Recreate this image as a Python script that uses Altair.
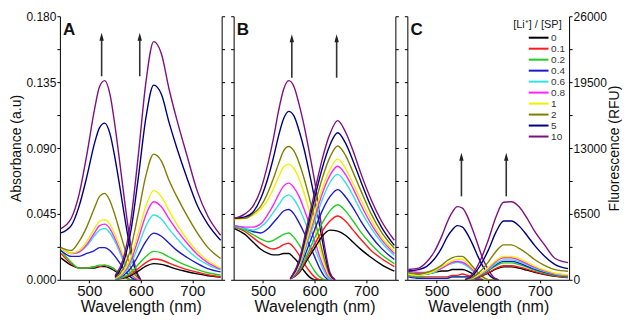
import altair as alt
import pandas as pd

SERIES = ["0", "0.1", "0.2", "0.4", "0.6", "0.8", "1", "2", "5", "10"]
COLORS = ["#000000", "#ff1a1a", "#22cc22", "#1c1cc8", "#33e3e3", "#ff22ff",
          "#f0f000", "#7f7f00", "#00007f", "#7f107f"]

X_DOMAIN = [443, 757]
X_TICKS = [500, 600, 700]
ABS_MAX = 0.18
FL_MAX = 26000

# ---------------- Panel A ----------------
A_ABS_WL = [445, 465, 480, 495, 510, 520, 530, 540, 550, 560, 570, 580, 590, 600]
A_ABS = {
    "0":   [0.015, 0.010, 0.008, 0.008, 0.008, 0.009, 0.009, 0.008, 0.006, 0.004, 0.002, 0.000, 0.000, 0.000],
    "0.1": [0.018, 0.011, 0.008, 0.008, 0.009, 0.009, 0.010, 0.009, 0.007, 0.004, 0.002, 0.000, 0.000, 0.000],
    "0.2": [0.020, 0.012, 0.008, 0.008, 0.009, 0.010, 0.010, 0.009, 0.007, 0.004, 0.002, 0.000, 0.000, 0.000],
    "0.4": [0.020, 0.016, 0.016, 0.018, 0.020, 0.022, 0.022, 0.020, 0.016, 0.011, 0.006, 0.002, 0.000, 0.000],
    "0.6": [0.022, 0.018, 0.019, 0.023, 0.030, 0.034, 0.035, 0.032, 0.026, 0.018, 0.010, 0.004, 0.001, 0.000],
    "0.8": [0.022, 0.018, 0.019, 0.024, 0.032, 0.037, 0.038, 0.035, 0.028, 0.020, 0.012, 0.005, 0.001, 0.000],
    "1":   [0.022, 0.018, 0.020, 0.026, 0.035, 0.040, 0.041, 0.038, 0.031, 0.022, 0.013, 0.006, 0.002, 0.000],
    "2":   [0.022, 0.020, 0.026, 0.036, 0.049, 0.057, 0.059, 0.054, 0.044, 0.032, 0.020, 0.009, 0.003, 0.000],
    "5":   [0.032, 0.037, 0.050, 0.070, 0.093, 0.104, 0.107, 0.100, 0.083, 0.062, 0.040, 0.020, 0.006, 0.000],
    "10":  [0.035, 0.042, 0.058, 0.085, 0.116, 0.132, 0.136, 0.127, 0.105, 0.078, 0.050, 0.025, 0.008, 0.000],
}
A_FL_WL = [550, 565, 580, 595, 610, 625, 640, 655, 670, 690, 710, 730, 755]
A_FL = {
    "0":   [50, 150, 400, 850, 1350, 1600, 1520, 1300, 1050, 800, 580, 400, 280],
    "0.1": [50, 200, 500, 1100, 1700, 2050, 1950, 1650, 1350, 1000, 750, 500, 300],
    "0.2": [50, 250, 700, 1500, 2300, 2800, 2650, 2250, 1850, 1400, 1000, 700, 480],
    "0.4": [100, 400, 1100, 2400, 3800, 4600, 4300, 3600, 2900, 2200, 1600, 1100, 780],
    "0.6": [100, 500, 1500, 3300, 5300, 6400, 6000, 5000, 4100, 3000, 2100, 1500, 980],
    "0.8": [150, 600, 1800, 4000, 6400, 7700, 7200, 6000, 4900, 3600, 2500, 1700, 1080],
    "1":   [150, 700, 2100, 4600, 7300, 8800, 8200, 6800, 5500, 4000, 2800, 1900, 1150],
    "2":   [200, 1000, 3000, 6500, 10300, 12400, 11700, 9800, 8200, 6300, 4600, 3200, 2100],
    "5":   [300, 1500, 4600, 10000, 16000, 19200, 18300, 15500, 13000, 10000, 7300, 5500, 3900],
    "10":  [400, 1900, 5600, 12200, 19500, 23500, 22300, 18800, 15800, 12200, 8700, 6300, 4400],
}

# ---------------- Panel B ----------------
B_ABS_WL = [445, 465, 480, 495, 510, 520, 530, 540, 550, 560, 570, 580, 590, 600, 610, 620, 630, 640]
B_ABS = {
    "0":   [0.035, 0.031, 0.026, 0.021, 0.018, 0.017, 0.017, 0.018, 0.018, 0.015, 0.011, 0.006, 0.002, 0.000, 0.000, 0.000, 0.000, 0.000],
    "0.1": [0.036, 0.033, 0.029, 0.025, 0.022, 0.021, 0.022, 0.024, 0.025, 0.022, 0.017, 0.011, 0.006, 0.002, 0.000, 0.000, 0.000, 0.000],
    "0.2": [0.036, 0.034, 0.031, 0.028, 0.026, 0.027, 0.029, 0.031, 0.032, 0.029, 0.024, 0.018, 0.012, 0.006, 0.002, 0.000, 0.000, 0.000],
    "0.4": [0.037, 0.035, 0.033, 0.032, 0.035, 0.039, 0.043, 0.047, 0.048, 0.045, 0.039, 0.032, 0.024, 0.016, 0.008, 0.002, 0.000, 0.000],
    "0.6": [0.037, 0.035, 0.034, 0.036, 0.041, 0.046, 0.051, 0.056, 0.058, 0.055, 0.049, 0.041, 0.032, 0.022, 0.013, 0.005, 0.000, 0.000],
    "0.8": [0.037, 0.036, 0.036, 0.038, 0.045, 0.051, 0.058, 0.064, 0.066, 0.063, 0.057, 0.048, 0.038, 0.027, 0.016, 0.007, 0.001, 0.000],
    "1":   [0.041, 0.042, 0.044, 0.048, 0.055, 0.062, 0.070, 0.077, 0.079, 0.076, 0.069, 0.059, 0.047, 0.035, 0.022, 0.010, 0.002, 0.000],
    "2":   [0.042, 0.042, 0.045, 0.050, 0.060, 0.069, 0.079, 0.088, 0.091, 0.088, 0.080, 0.069, 0.056, 0.042, 0.027, 0.013, 0.003, 0.000],
    "5":   [0.042, 0.043, 0.046, 0.055, 0.070, 0.083, 0.098, 0.110, 0.115, 0.112, 0.102, 0.089, 0.073, 0.056, 0.037, 0.018, 0.004, 0.000],
    "10":  [0.042, 0.045, 0.050, 0.061, 0.080, 0.096, 0.115, 0.130, 0.136, 0.132, 0.120, 0.105, 0.087, 0.068, 0.045, 0.022, 0.005, 0.000],
}
B_FL_WL = [553, 570, 585, 600, 615, 630, 645, 660, 675, 690, 710, 730, 755]
B_FL = {
    "0":   [100, 700, 1900, 3100, 4300, 4900, 4800, 4400, 3700, 3000, 2200, 1500, 850],
    "0.1": [100, 750, 2100, 3500, 4800, 5800, 6300, 5800, 4900, 4000, 2900, 2100, 1300],
    "0.2": [100, 900, 2400, 4100, 5600, 6800, 7400, 6800, 5800, 4700, 3500, 2500, 1600],
    "0.4": [100, 1050, 2900, 4900, 6800, 8200, 8900, 8200, 7100, 5800, 4300, 3100, 2000],
    "0.6": [100, 1200, 3400, 5700, 7900, 9600, 10400, 9600, 8300, 6800, 5100, 3700, 2400],
    "0.8": [100, 1300, 3700, 6100, 8500, 10300, 11200, 10400, 9000, 7400, 5500, 4000, 2600],
    "1":   [100, 1400, 3900, 6500, 9000, 10900, 11900, 11000, 9500, 7900, 5900, 4200, 2800],
    "2":   [100, 1600, 4400, 7300, 10000, 12100, 13200, 12300, 10600, 8800, 6500, 4700, 3100],
    "5":   [100, 1700, 4800, 8000, 11000, 13300, 14500, 13500, 11700, 9700, 7200, 5200, 3400],
    "10":  [100, 1900, 5200, 8600, 11900, 14400, 15700, 14600, 12700, 10500, 7900, 5800, 3900],
}

# ---------------- Panel C ----------------
C_ABS_WL = [445, 465, 480, 495, 510, 520, 530, 540, 550, 560, 570, 580, 590, 600, 610, 620]
C_ABS = {
    "0":   [0.004, 0.004, 0.004, 0.005, 0.006, 0.006, 0.007, 0.007, 0.007, 0.006, 0.004, 0.002, 0.001, 0.000, 0.000, 0.000],
    "0.1": [0.003, 0.002, 0.002, 0.002, 0.002, 0.002, 0.003, 0.003, 0.004, 0.003, 0.002, 0.001, 0.000, 0.000, 0.000, 0.000],
    "0.2": [0.003, 0.002, 0.001, 0.001, 0.001, 0.001, 0.002, 0.002, 0.002, 0.002, 0.001, 0.000, 0.000, 0.000, 0.000, 0.000],
    "0.4": [0.002, 0.001, 0.001, 0.001, 0.001, 0.001, 0.002, 0.002, 0.002, 0.002, 0.001, 0.000, 0.000, 0.000, 0.000, 0.000],
    "0.6": [0.004, 0.003, 0.004, 0.005, 0.008, 0.010, 0.011, 0.012, 0.011, 0.009, 0.006, 0.003, 0.001, 0.000, 0.000, 0.000],
    "0.8": [0.006, 0.005, 0.005, 0.006, 0.008, 0.010, 0.012, 0.0125, 0.012, 0.010, 0.007, 0.004, 0.001, 0.000, 0.000, 0.000],
    "1":   [0.004, 0.003, 0.004, 0.006, 0.009, 0.011, 0.013, 0.014, 0.014, 0.011, 0.008, 0.004, 0.001, 0.000, 0.000, 0.000],
    "2":   [0.005, 0.004, 0.005, 0.007, 0.010, 0.013, 0.015, 0.016, 0.016, 0.013, 0.009, 0.005, 0.002, 0.000, 0.000, 0.000],
    "5":   [0.006, 0.007, 0.009, 0.014, 0.022, 0.029, 0.034, 0.037, 0.036, 0.031, 0.024, 0.016, 0.009, 0.004, 0.001, 0.000],
    "10":  [0.007, 0.008, 0.012, 0.019, 0.030, 0.039, 0.046, 0.050, 0.049, 0.043, 0.034, 0.024, 0.014, 0.007, 0.002, 0.000],
}
C_FL_WL = [555, 570, 585, 600, 615, 630, 645, 660, 675, 690, 710, 730, 755]
C_FL = {
    "0":   [0, 100, 330, 650, 1050, 1280, 1280, 1150, 950, 750, 520, 350, 230],
    "0.1": [0, 110, 350, 700, 1130, 1380, 1380, 1250, 1050, 800, 560, 380, 250],
    "0.2": [0, 130, 430, 870, 1380, 1670, 1670, 1500, 1250, 950, 670, 450, 300],
    "0.4": [0, 140, 470, 950, 1500, 1820, 1820, 1650, 1350, 1050, 730, 500, 350],
    "0.6": [0, 150, 500, 1000, 1600, 1970, 1970, 1800, 1500, 1150, 800, 550, 400],
    "0.8": [0, 170, 560, 1100, 1800, 2170, 2170, 1950, 1600, 1250, 880, 600, 450],
    "1":   [0, 180, 600, 1200, 1900, 2300, 2300, 2100, 1750, 1350, 950, 650, 500],
    "2":   [0, 250, 850, 1750, 2800, 3450, 3450, 3100, 2600, 2000, 1400, 1000, 850],
    "5":   [0, 450, 1450, 2900, 4700, 5800, 5800, 5300, 4400, 3400, 2300, 1500, 1100],
    "10":  [0, 600, 1950, 3900, 6200, 7650, 7700, 7200, 6100, 4800, 3400, 2100, 1700],
}

# arrows: wavelength, tail (absorbance units), head
ARROWS = {
    "A": [(524, 0.139, 0.166), (598, 0.139, 0.166)],
    "B": [(556, 0.138, 0.165), (643, 0.138, 0.165)],
    "C": [(548, 0.057, 0.084), (635, 0.057, 0.084)],
}
PANEL_LABEL_AT = (449, 0.1675)

FONT = "Liberation Sans"
PANEL_W = 162
PANEL_H = 264


def long_frame(wl, vals):
    rows = []
    for i, s in enumerate(SERIES):
        for w, v in zip(wl, vals[s]):
            rows.append({"wl": w, "value": v, "series": s, "k": i})
    return pd.DataFrame(rows)


ABS_TICKS = [round(i * 0.0225, 4) for i in range(9)]
FL_TICKS = [i * 3250 for i in range(9)]


def make_panel(key, abs_wl, abs_vals, fl_wl, fl_vals, first, last):
    abs_df = long_frame(abs_wl, abs_vals)
    fl_df = long_frame(fl_wl, fl_vals)
    arrow_df = pd.DataFrame([{"wl": a, "value": t, "value2": h} for a, t, h in ARROWS[key]])
    label_df = pd.DataFrame([{"wl": PANEL_LABEL_AT[0], "value": PANEL_LABEL_AT[1], "text": key}])

    x_axis = alt.Axis(values=X_TICKS, title="Wavelength (nm)", titleFontSize=16,
                      labelFontSize=15, tickSize=3, labelPadding=1, titlePadding=0,
                      grid=False)
    x = alt.X("wl:Q", scale=alt.Scale(domain=X_DOMAIN, nice=False, zero=False), axis=x_axis)

    if first:
        left_axis = alt.Axis(orient="left", values=ABS_TICKS, tickSize=3, labelFontSize=12,
                             labelPadding=1,
                             labelExpr="round(datum.value*1000) % 45 == 0 ? format(datum.value, '.3f') : ''",
                             title="Absorbance (a.u)", titleFontSize=14, titlePadding=2,
                             grid=False)
    else:
        left_axis = alt.Axis(orient="left", values=ABS_TICKS, tickSize=3, labels=False,
                             title=None, grid=False)
    abs_scale = alt.Scale(domain=[0, ABS_MAX], nice=False, zero=True)

    def yabs(field):
        return alt.Y(field, scale=abs_scale, axis=left_axis)

    if last:
        right_axis = alt.Axis(orient="right", values=FL_TICKS, tickSize=3, labelFontSize=12,
                              labelPadding=1,
                              labelExpr="datum.value % 6500 == 0 ? format(datum.value, 'd') : ''",
                              title="Fluorescence (RFU)", titleFontSize=14, titlePadding=1,
                              titleAngle=270, titleBaseline="top", grid=False)
        legend = alt.Legend(orient="none", legendX=106, legendY=3, title="[Li⁺] / [SP]",
                            titleFontSize=11, titleFontWeight="normal", titleFont=FONT,
                            titlePadding=2, titleColor="#222",
                            symbolType="M-2.2,0H2.2", symbolSize=81, symbolStrokeWidth=2,
                            symbolOffset=20, labelFontSize=10, labelFont=FONT,
                            labelColor="#333", labelOffset=7, rowPadding=0, padding=0)
    else:
        right_axis = alt.Axis(orient="right", values=FL_TICKS, tickSize=3, labels=False,
                              title=None, grid=False)
        legend = None

    color = alt.Color("series:N", scale=alt.Scale(domain=SERIES, range=COLORS),
                      sort=SERIES, legend=legend)

    abs_line = alt.Chart(abs_df).mark_line(interpolate="monotone", strokeWidth=1.4, clip=True).encode(
        x=x, y=yabs("value:Q"), color=color, order=alt.Order("wl:Q"))
    arrow_rule = alt.Chart(arrow_df).mark_rule(color="#333333", strokeWidth=1.6).encode(
        x=x, y=yabs("value:Q"), y2="value2:Q")
    arrow_head = alt.Chart(arrow_df).mark_point(shape="M0,-1L0.55,1L-0.55,1Z", filled=True,
                                                size=64, color="#222222", opacity=1).encode(
        x=x, y=yabs("value2:Q"))
    label = alt.Chart(label_df).mark_text(align="left", baseline="alphabetic", fontSize=17,
                                          fontWeight="bold", font=FONT, color="#111111").encode(
        x=x, y=yabs("value:Q"), text="text:N")

    fl_line = alt.Chart(fl_df).mark_line(interpolate="monotone", strokeWidth=1.4, clip=True).encode(
        x=x,
        y=alt.Y("value:Q", scale=alt.Scale(domain=[0, FL_MAX], nice=False, zero=True), axis=right_axis),
        color=color, order=alt.Order("wl:Q"))

    abs_group = alt.layer(abs_line, arrow_rule, arrow_head, label)
    return alt.layer(abs_group, fl_line).resolve_scale(y="independent").properties(
        width=PANEL_W, height=PANEL_H)


pA = make_panel("A", A_ABS_WL, A_ABS, A_FL_WL, A_FL, True, False)
pB = make_panel("B", B_ABS_WL, B_ABS, B_FL_WL, B_FL, False, False)
pC = make_panel("C", C_ABS_WL, C_ABS, C_FL_WL, C_FL, False, True)

chart = (
    alt.hconcat(pA, pB, pC, spacing=12, bounds="flush")
    .resolve_legend(color="independent")
    .properties(padding={"left": 1, "top": 1, "right": 0, "bottom": 0}, background="white")
    .configure_view(stroke="transparent")
    .configure_axis(domainColor="#000000", tickColor="#000000", labelColor="#111111",
                    titleColor="#111111", labelFont=FONT, titleFont=FONT,
                    titleFontWeight="normal", domainWidth=1, tickWidth=1)
)

chart.save("out.html", embed_options={"renderer": "svg", "actions": False})
